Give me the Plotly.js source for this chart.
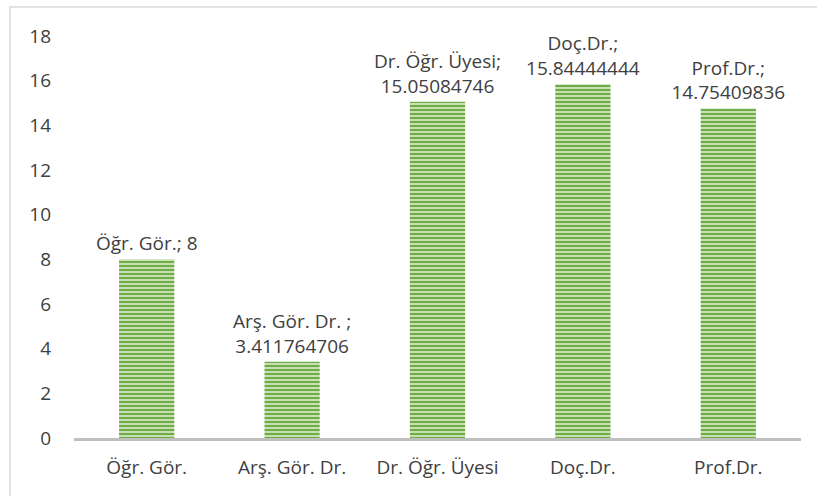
<!DOCTYPE html>
<html>
<head>
<meta charset="utf-8">
<script src="https://cdn.plot.ly/plotly-3.0.1.min.js"></script>
<style>html,body{margin:0;padding:0;background:#fff;}#chart{width:817px;height:496px;}</style>
</head>
<body>
<div id="chart"></div>
<script>
const categories = ["Öğr. Gör.", "Arş. Gör. Dr.", "Dr. Öğr. Üyesi", "Doç.Dr.", "Prof.Dr."];
const values = [8, 3.411764706, 15.05084746, 15.84444444, 14.75409836];
const labelNames = ["Öğr. Gör.;", "Arş. Gör. Dr. ;", "Dr. Öğr. Üyesi;", "Doç.Dr.;", "Prof.Dr.;"];
const labelValues = ["8", "3.411764706", "15.05084746", "15.84444444", "14.75409836"];
const yTicks = [0, 2, 4, 6, 8, 10, 12, 14, 16, 18];

const texts = labelNames.map((n, i) => i === 0 ? n + " " + labelValues[i] : n + "<br>" + labelValues[i]);

const FONT = "'Open Sans', 'Liberation Sans', sans-serif";

const trace = {
  type: "bar",
  x: categories,
  y: values,
  text: texts,
  textposition: "outside",
  constraintext: "none",
  cliponaxis: false,
  textfont: {family: FONT, size: 19, color: "#404040"},
  hoverinfo: "none",
  marker: {
    color: "#c6e0b4",
    line: {width: 0},
    pattern: {shape: "-", fgcolor: "#70ad47", bgcolor: "#c6e0b4", size: 4, solidity: 0.5}
  }
};

const L = 74, R = 801, T = 36, B = 438;
const W = 817, H = 496;
const pw = R - L, ph = B - T;

const layout = {
  width: W, height: H,
  margin: {l: L, r: W - R, t: T, b: H - B, pad: 0},
  paper_bgcolor: "#ffffff",
  plot_bgcolor: "#ffffff",
  showlegend: false,
  bargap: 0.62,
  font: {family: FONT, size: 19, color: "#404040"},
  xaxis: {
    type: "category",
    showgrid: false,
    showline: true,
    linecolor: "#bfbfbf",
    linewidth: 3,
    ticks: "",
    ticklabelstandoff: 10,
    tickfont: {family: FONT, size: 19, color: "#404040"},
    zeroline: false,
    fixedrange: true
  },
  yaxis: {
    range: [0, 18],
    tickvals: yTicks,
    ticktext: yTicks.map(String),
    showgrid: false,
    showline: false,
    zeroline: false,
    ticks: "",
    ticklabelstandoff: 22,
    tickfont: {family: FONT, size: 19, color: "#404040"},
    fixedrange: true
  },
  shapes: [{
    type: "rect", xref: "paper", yref: "paper",
    x0: (10 - L) / pw, x1: (W + 20 - L) / pw,
    y0: (B - (H + 20)) / ph, y1: (B - 7) / ph,
    line: {color: "#d9d9d9", width: 1.5},
    fillcolor: "rgba(0,0,0,0)",
    layer: "below"
  }]
};

Plotly.newPlot("chart", [trace], layout, {staticPlot: true, displayModeBar: false});
</script>
</body>
</html>
